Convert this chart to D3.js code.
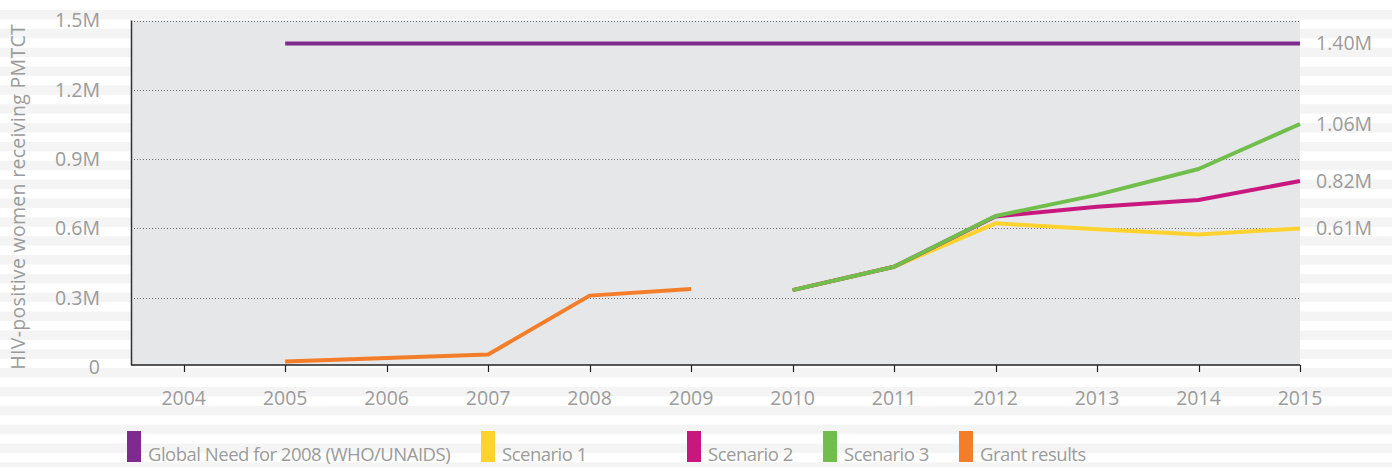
<!DOCTYPE html>
<html>
<head>
<meta charset="utf-8">
<script src="https://cdn.jsdelivr.net/npm/d3@7.9.0/dist/d3.min.js"></script>
<style>
  html, body { margin: 0; padding: 0; background: #fff; }
  svg { display: block; font-family: "Open Sans", "Noto Sans", sans-serif; }
  .lbl { fill: #9b9b9b; }
</style>
</head>
<body>
<div id="chart"></div>
<script>
// values (millions)
const years = [2004, 2005, 2006, 2007, 2008, 2009, 2010, 2011, 2012, 2013, 2014, 2015];
const yTicks = [0, 0.3, 0.6, 0.9, 1.2, 1.5];
const yTickLabels = ["0", "0.3M", "0.6M", "0.9M", "1.2M", "1.5M"];

const needYears = [2005, 2015];
const needValues = [1.40, 1.40];

const grantYears = [2005, 2006, 2007, 2008, 2009];
const grantValues = [0.024, 0.039, 0.054, 0.309, 0.338];

const scenYears = [2010, 2011, 2012, 2013, 2014, 2015];
const scen1 = [0.333, 0.434, 0.622, 0.596, 0.574, 0.600];
const scen2 = [0.333, 0.434, 0.652, 0.694, 0.723, 0.805];
const scen3 = [0.333, 0.434, 0.654, 0.745, 0.857, 1.052];

const endLabels = ["1.40M", "1.06M", "0.82M", "0.61M"];
const endValues = [1.40, 1.052, 0.805, 0.600];

const legendNames = ["Global Need for 2008 (WHO/UNAIDS)", "Scenario 1", "Scenario 2", "Scenario 3", "Grant results"];
const legendColors = ["#7f2a8e", "#ffd22e", "#c8177e", "#71be4d", "#f47d2a"];

const W = 1392, H = 467;
const plot = { left: 131, right: 1300, top: 20.5, bottom: 365 };

const svg = d3.select("#chart").append("svg")
    .attr("width", W)
    .attr("height", H);

// striped page background
const stripeStep = 18.85;
svg.append("rect").attr("width", W).attr("height", H).attr("fill", "#fff");
svg.append("g")
    .selectAll("rect")
    .data(d3.range(0, 25))
    .join("rect")
    .attr("x", 0)
    .attr("width", W)
    .attr("y", i => 10 + i * stripeStep)
    .attr("height", 9.4)
    .attr("fill", "#f4f4f4");

const x = d3.scaleLinear().domain([2004, 2015]).range([183.7, 1300]);
const y = d3.scaleLinear().domain([0, 1.5]).range([367, 20.5]);

// plot panel
svg.append("rect")
    .attr("x", plot.left)
    .attr("y", plot.top)
    .attr("width", plot.right - plot.left)
    .attr("height", plot.bottom - plot.top)
    .attr("fill", "#e6e7e8");

// dotted grid
svg.append("g")
    .selectAll("line")
    .data(yTicks.filter(d => d > 0))
    .join("line")
    .attr("x1", plot.left)
    .attr("x2", plot.right)
    .attr("y1", d => Math.round(y(d)) + 0.5)
    .attr("y2", d => Math.round(y(d)) + 0.5)
    .attr("stroke", "#6e6e6e")
    .attr("stroke-width", 1)
    .attr("stroke-dasharray", "1,2");

// axes lines
svg.append("line")
    .attr("x1", plot.left + 0.5).attr("x2", plot.left + 0.5)
    .attr("y1", plot.top).attr("y2", plot.bottom)
    .attr("stroke", "#333").attr("stroke-width", 1.5);
svg.append("line")
    .attr("x1", plot.left).attr("x2", plot.right)
    .attr("y1", plot.bottom).attr("y2", plot.bottom)
    .attr("stroke", "#222").attr("stroke-width", 1.5);

// x ticks + labels
const xg = svg.append("g");
xg.selectAll("line")
    .data(years)
    .join("line")
    .attr("x1", d => Math.round(x(d)) + 0.5)
    .attr("x2", d => Math.round(x(d)) + 0.5)
    .attr("y1", plot.bottom)
    .attr("y2", plot.bottom + 7)
    .attr("stroke", "#222")
    .attr("stroke-width", 1.2);
xg.selectAll("text")
    .data(years)
    .join("text")
    .attr("class", "lbl")
    .attr("x", d => x(d))
    .attr("y", 405)
    .attr("text-anchor", "middle")
    .attr("font-size", 19.5)
    .text(d => d);

// y tick labels
svg.append("g")
    .selectAll("text")
    .data(yTicks)
    .join("text")
    .attr("class", "lbl")
    .attr("x", 100)
    .attr("y", d => y(d))
    .attr("dy", "0.35em")
    .attr("text-anchor", "end")
    .attr("font-size", 19.5)
    .text((d, i) => yTickLabels[i]);

// y axis title
svg.append("text")
    .attr("class", "lbl")
    .attr("transform", `translate(25, ${(plot.top + plot.bottom) / 2 + 4}) rotate(-90)`)
    .attr("text-anchor", "middle")
    .attr("font-size", 19.5)
    .attr("letter-spacing", 0.3)
    .text("HIV-positive women receiving PMTCT");

// series lines
const line = d3.line().x(d => x(d[0])).y(d => y(d[1]));
const series = [
    { yrs: needYears, vals: needValues, color: legendColors[0] },
    { yrs: grantYears, vals: grantValues, color: legendColors[4] },
    { yrs: scenYears, vals: scen1, color: legendColors[1] },
    { yrs: scenYears, vals: scen2, color: legendColors[2] },
    { yrs: scenYears, vals: scen3, color: legendColors[3] }
];
svg.append("g")
    .selectAll("path")
    .data(series)
    .join("path")
    .attr("d", s => line(s.yrs.map((yr, i) => [yr, s.vals[i]])))
    .attr("fill", "none")
    .attr("stroke", s => s.color)
    .attr("stroke-width", 4)
    .attr("stroke-linejoin", "round");

// end-of-line value labels
svg.append("g")
    .selectAll("text")
    .data(endLabels)
    .join("text")
    .attr("class", "lbl")
    .attr("x", 1316)
    .attr("y", (d, i) => y(endValues[i]))
    .attr("dy", "0.35em")
    .attr("font-size", 19.5)
    .text(d => d);

// legend
const legendX = [127, 481, 687, 823, 959];
const lg = svg.append("g")
    .selectAll("g")
    .data(legendNames)
    .join("g")
    .attr("transform", (d, i) => `translate(${legendX[i]}, 431)`);
lg.append("rect")
    .attr("width", 14)
    .attr("height", 31)
    .attr("fill", (d, i) => legendColors[i]);
lg.append("text")
    .attr("class", "lbl")
    .attr("x", 21)
    .attr("y", 30)
    .attr("font-size", 18.5)
    .attr("letter-spacing", -0.5)
    .text(d => d);
</script>
</body>
</html>
